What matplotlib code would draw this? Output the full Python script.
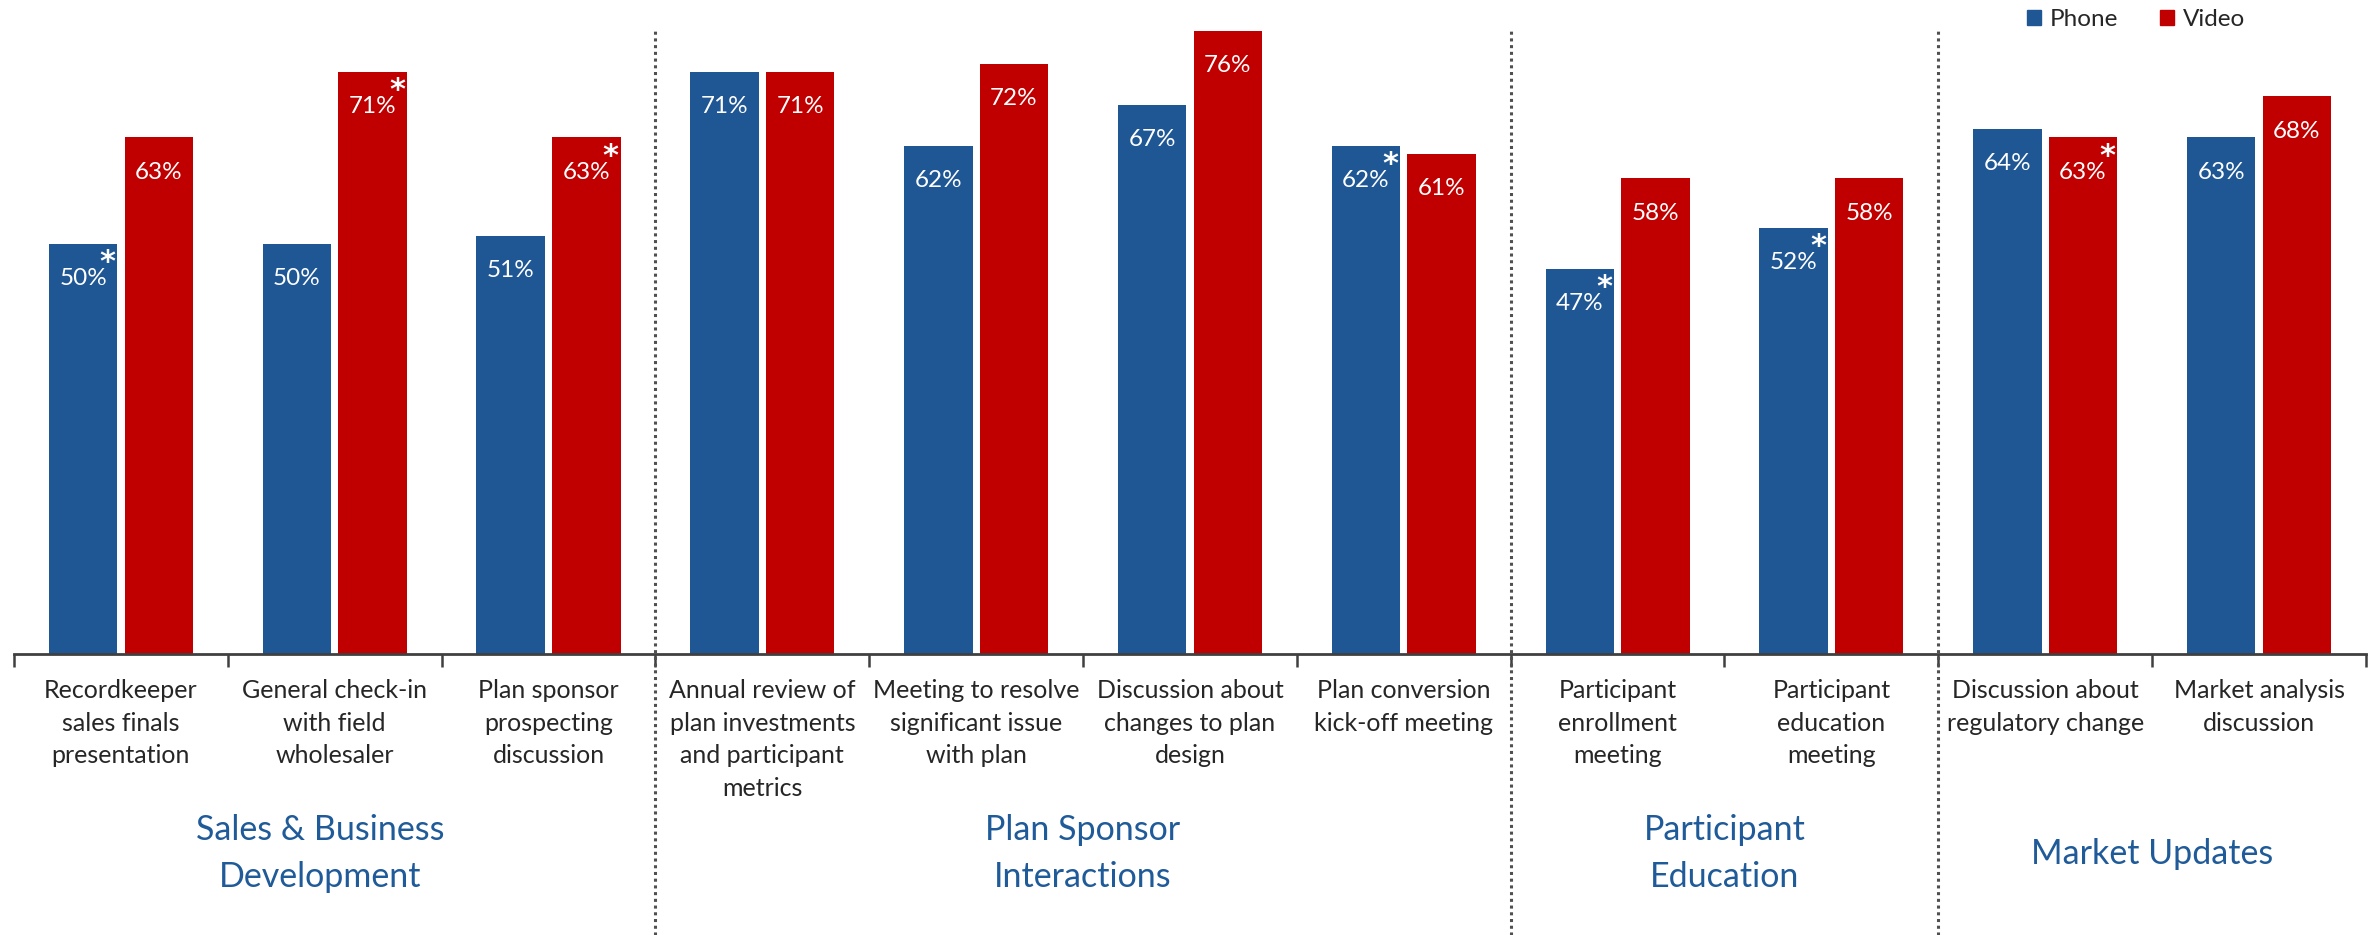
import numpy as np
import matplotlib
matplotlib.use("Agg")
import matplotlib.pyplot as plt
from matplotlib.lines import Line2D
from matplotlib.patches import Patch

plt.rcParams['font.family'] = ['Lato', 'DejaVu Sans']

# meeting types and share of respondents per channel
categories = [
    "Recordkeeper\nsales finals\npresentation",
    "General check-in\nwith field\nwholesaler",
    "Plan sponsor\nprospecting\ndiscussion",
    "Annual review of\nplan investments\nand participant\nmetrics",
    "Meeting to resolve\nsignificant issue\nwith plan",
    "Discussion about\nchanges to plan\ndesign",
    "Plan conversion\nkick-off meeting",
    "Participant\nenrollment\nmeeting",
    "Participant\neducation\nmeeting",
    "Discussion about\nregulatory change",
    "Market analysis\ndiscussion",
]
phone = [50, 50, 51, 71, 62, 67, 62, 47, 52, 64, 63]
video = [63, 71, 63, 71, 72, 76, 61, 58, 58, 63, 68]
phone_sig = [True, False, False, False, False, False, True, True, True, False, False]
video_sig = [False, True, True, False, False, False, False, False, False, True, False]

groups = ["Sales & Business\nDevelopment", "Plan Sponsor\nInteractions",
          "Participant\nEducation", "Market Updates"]
group_sizes = [3, 4, 2, 2]

BLUE = "#1F5795"
RED = "#C00000"
GROUP_BLUE = "#1F5A99"

fig = plt.figure(figsize=(23.74, 9.35), dpi=100)
ax = fig.add_axes([0.0059, 0.3005, 0.9907, 0.6928])

x = np.arange(len(categories))
w = 0.32
off = 0.177
b1 = ax.bar(x - off, phone, w, color=BLUE, label="Phone")
b2 = ax.bar(x + off, video, w, color=RED, label="Video")

ax.set_xlim(-0.5, len(categories) - 0.5)
ax.set_ylim(0, 79)

# value labels inside the bar tops, asterisk marks significant differences
for bars, vals, sig in [(b1, phone, phone_sig), (b2, video, video_sig)]:
    for bar, v, s in zip(bars, vals, sig):
        cx = bar.get_x() + bar.get_width() / 2
        ax.annotate(f"{v}%", (cx, v), xytext=(0, -25), textcoords="offset points",
                    ha="center", va="center", color="white", fontsize=17.5)
        if s:
            ax.annotate("*", (cx, v), xytext=(17.5, -13.5), textcoords="offset points",
                        ha="center", va="center", color="white", fontsize=22,
                        fontweight="bold", family="DejaVu Sans")

for sp in ["top", "left", "right"]:
    ax.spines[sp].set_visible(False)
ax.spines["bottom"].set_color("#404040")
ax.spines["bottom"].set_linewidth(2)
ax.set_yticks([])

ax.set_xticks(np.arange(len(categories) + 1) - 0.5)
ax.set_xticklabels([])
ax.tick_params(axis="x", which="major", length=9, width=1.8, color="#404040")
ax.set_xticks(x, categories, minor=True)
ax.tick_params(axis="x", which="minor", length=0, pad=18, labelsize=18,
               labelcolor="#262626")
for lbl in ax.get_xticklabels(minor=True):
    lbl.set_linespacing(1.5)

# dotted separators between groups, running down through the group labels
bounds = np.cumsum(group_sizes)
trans = matplotlib.transforms.blended_transform_factory(ax.transData, fig.transFigure)
for b in bounds[:-1]:
    fig.add_artist(Line2D([b - 0.5, b - 0.5], [0, 0.968], transform=trans,
                          color="#505050", linestyle=(0, (1, 1.2)), linewidth=2.2))

starts = np.concatenate([[0], bounds[:-1]])
for i, (g, s, n) in enumerate(zip(groups, starts, group_sizes)):
    gx = s - 0.5 + n / 2
    if i == 0:
        gx -= 0.07
    fig.text(gx, 0.087, g, transform=trans, ha="center", va="center",
             color=GROUP_BLUE, fontsize=24.5, linespacing=1.58)

handles = [Patch(color=BLUE), Patch(color=RED)]
fig.legend(handles, ["Phone", "Video"], loc="upper left",
           bbox_to_anchor=(0.8445, 1.014), ncol=2, frameon=False, fontsize=17.5,
           handlelength=0.6, handleheight=0.6, handletextpad=0.35,
           columnspacing=1.7, labelcolor="#262626")

fig.savefig("out.png", dpi=100)
